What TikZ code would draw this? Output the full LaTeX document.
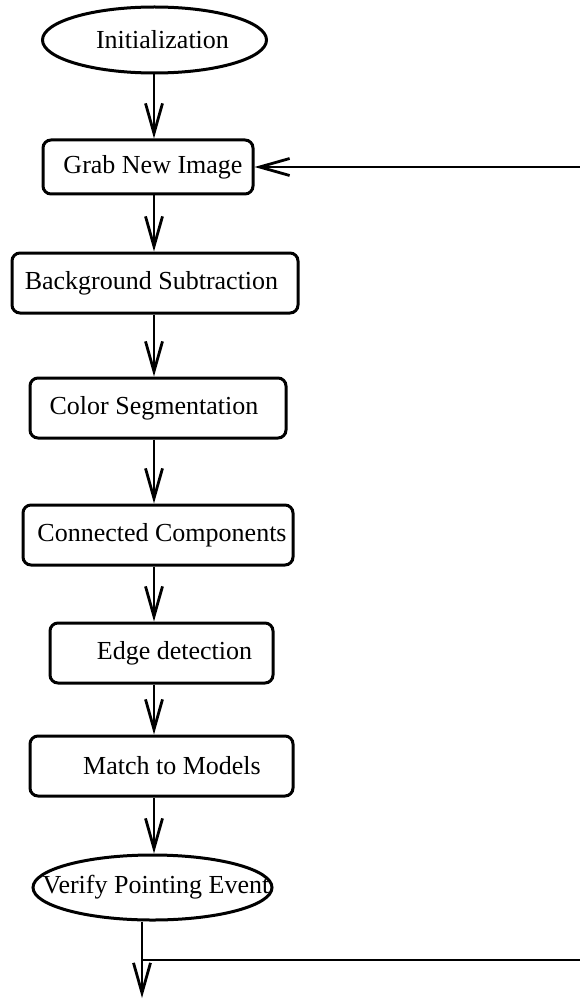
\documentclass[tikz,border=0pt]{standalone}
\usepackage{fontspec}
\setmainfont{Liberation Serif}
\usetikzlibrary{shapes.geometric,arrows.meta}

% shift a label horizontally inside its node: positive moves it right
\newcommand{\shiftlabel}[2]{%
  \ifdim#1>0pt \makebox[0pt]{\hspace*{#1}\hspace*{#1}#2}%
  \else \makebox[0pt]{#2\hspace*{-#1}\hspace*{-#1}}\fi}

\tikzset{
  stage/.style={draw, line width=3pt, rounded corners=8pt, inner sep=0pt,
    font=\fontsize{26}{30}\selectfont},
  terminal/.style={draw, ellipse, line width=3pt, inner sep=0pt,
    font=\fontsize{26}{30}\selectfont},
  flow/.style={line width=2.6pt, -{Straight Barb[length=30pt,width=17pt,line width=2.8pt]}},
  plain/.style={line width=2.6pt}
}

\begin{document}
\begin{tikzpicture}[x=1pt,y=-1pt]
  \useasboundingbox (0,0) rectangle (580,1000);

  % terminals and processing stages
  \node[terminal, minimum width=224, minimum height=66] (init) at (154.5,40)
    {\shiftlabel{8pt}{Initialization}};
  \node[stage, minimum width=210, minimum height=54] (grab) at (148,167)
    {\shiftlabel{5pt}{Grab New Image}};
  \node[stage, minimum width=286, minimum height=60] (bgsub) at (155,283)
    {\shiftlabel{-3.5pt}{Background Subtraction}};
  \node[stage, minimum width=256, minimum height=60] (color) at (158,408)
    {\shiftlabel{-4pt}{Color Segmentation}};
  \node[stage, minimum width=270, minimum height=60] (conn) at (158,535)
    {\shiftlabel{4pt}{Connected Components}};
  \node[stage, minimum width=223, minimum height=60] (edge) at (161.5,653)
    {\shiftlabel{13pt}{Edge detection}};
  \node[stage, minimum width=263, minimum height=60] (match) at (161.5,766)
    {\shiftlabel{10.5pt}{Match to Models}};
  \node[terminal, minimum width=239, minimum height=65] (verify) at (152.5,887.5)
    {\shiftlabel{3.5pt}{Verify Pointing Event}};

  % main trunk and loop coordinates
  \coordinate (trunk) at (154,0);
  \coordinate (exit) at (142,998);
  \coordinate (split) at (142,960);
  \coordinate (loopout) at (580,960);
  \coordinate (loopin) at (580,167);

  % downward flow
  \draw[flow] (init.south -| trunk) -- (grab.north -| trunk);
  \draw[flow] (grab.south -| trunk) -- (bgsub.north -| trunk);
  \draw[flow] (bgsub.south -| trunk) -- (color.north -| trunk);
  \draw[flow] (color.south -| trunk) -- (conn.north -| trunk);
  \draw[flow] (conn.south -| trunk) -- (edge.north -| trunk);
  \draw[flow] (edge.south -| trunk) -- (match.north -| trunk);
  \draw[flow] (match.south -| trunk) -- (verify.north -| trunk);
  \draw[flow] (verify.south -| exit) -- (exit);

  % loop back to image acquisition
  \draw[plain] (split) -- (loopout);
  \draw[flow] (loopin) -- (grab.east);
\end{tikzpicture}
\end{document}
